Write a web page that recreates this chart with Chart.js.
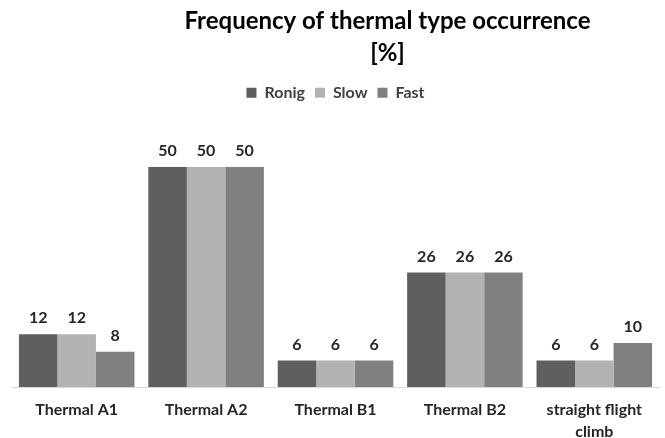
<!DOCTYPE html>
<html lang="en">
<head>
  <meta charset="utf-8">
  <title>Frequency of thermal type occurrence</title>
  <script src="https://cdn.jsdelivr.net/npm/chart.js@4"></script>
  <style>
    html, body { margin: 0; padding: 0; background: #fff; }
    #wrap { width: 665px; height: 438px; }
  </style>
</head>
<body>
<div id="wrap"><canvas id="myChart"></canvas></div>
<script>
// categories and series values
var categories = ['Thermal A1', 'Thermal A2', 'Thermal B1', 'Thermal B2', ['straight flight', 'climb']];
var ronig = [12, 50, 6, 26, 6];
var slow = [12, 50, 6, 26, 6];
var fast = [8, 50, 6, 26, 10];

var FONT = "Lato, 'Open Sans', sans-serif";

// draws the value above every bar
var valueLabels = {
  id: 'valueLabels',
  afterDatasetsDraw: function(chart) {
    var ctx = chart.ctx;
    ctx.save();
    ctx.font = 'bold 16px ' + FONT;
    ctx.fillStyle = '#262626';
    ctx.textAlign = 'center';
    ctx.textBaseline = 'bottom';
    chart.data.datasets.forEach(function(ds, i) {
      chart.getDatasetMeta(i).data.forEach(function(bar, j) {
        ctx.fillText(ds.data[j], bar.x, bar.y - 8);
      });
    });
    ctx.restore();
  }
};

// extra room under the legend, and the title sits a bit right of centre in the original
var layoutTweaks = {
  id: 'layoutTweaks',
  beforeInit: function(chart) {
    var fit = chart.legend.fit;
    chart.legend.fit = function() {
      fit.call(this);
      this.height += 56;
    };
  },
  afterLayout: function(chart) {
    chart.titleBlock.left += 104;
  }
};

var ctx = document.getElementById('myChart').getContext('2d');
var chart = new Chart(ctx, {
  type: 'bar',
  data: {
    labels: categories,
    datasets: [
      { label: 'Ronig', data: ronig, backgroundColor: '#5f5f5f' },
      { label: 'Slow', data: slow, backgroundColor: '#b2b2b2' },
      { label: 'Fast', data: fast, backgroundColor: '#808080' }
    ]
  },
  options: {
    responsive: true,
    maintainAspectRatio: false,
    animation: false,
    layout: { padding: { left: 12, right: 6, top: 5, bottom: 0 } },
    datasets: { bar: { categoryPercentage: 0.893, barPercentage: 1.0 } },
    plugins: {
      title: {
        display: true,
        text: ['Frequency of thermal type occurrence', '[%]'],
        color: '#000',
        font: { family: FONT, size: 24, weight: 'bold', lineHeight: 1.33 },
        padding: { top: 0, bottom: 6 }
      },
      legend: {
        display: true,
        labels: {
          color: '#404040',
          font: { family: FONT, size: 16, weight: 'bold' },
          boxWidth: 10,
          boxHeight: 10,
          padding: 10
        }
      },
      tooltip: { enabled: false }
    },
    scales: {
      x: {
        grid: { display: false, drawTicks: false },
        border: { color: '#d9d9d9', width: 1 },
        ticks: {
          color: '#262626',
          font: { family: FONT, size: 16, weight: 'bold', lineHeight: 1.375 },
          maxRotation: 0,
          padding: 12
        },
        afterFit: function(scale) {
          scale.height = 51;
        }
      },
      y: {
        display: false,
        min: 0,
        max: 50
      }
    }
  },
  plugins: [valueLabels, layoutTweaks]
});
</script>
</body>
</html>
